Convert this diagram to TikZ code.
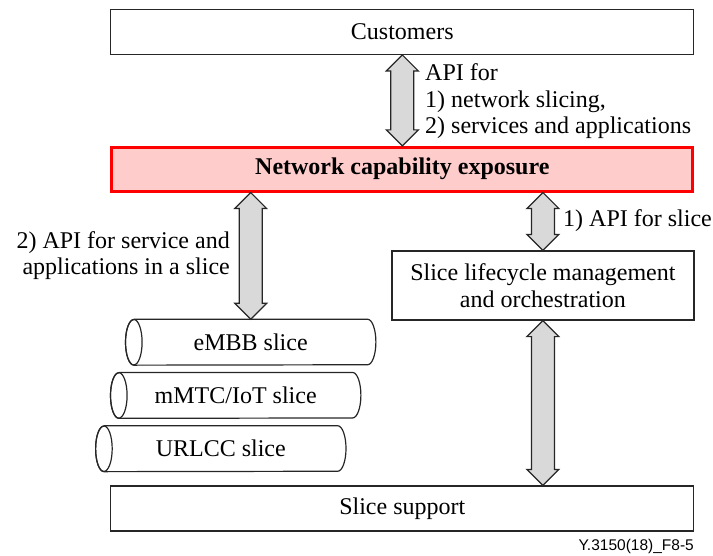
\documentclass[tikz,border=0pt]{standalone}
\usepackage{fontspec}
\setmainfont{Liberation Serif}
\newfontfamily\labelsans{Liberation Sans}
\usetikzlibrary{calc}
\definecolor{exposurefill}{RGB}{255,204,204}
\definecolor{exposureline}{RGB}{255,0,0}
\definecolor{arrowfill}{RGB}{217,217,217}

% horizontal cylinder outline round a named node, open face on the left
\newcommand\slicebody[1]{%
  \draw[outline] ([xshift=8.3pt]#1.north west) -- ([xshift=-8.3pt]#1.north east)
    arc[start angle=90,end angle=-90,x radius=8.3pt,y radius=22.75pt]
    -- ([xshift=8.3pt]#1.south west)
    arc[start angle=270,end angle=90,x radius=8.3pt,y radius=22.75pt];
  \draw[outline] ([xshift=8.3pt]#1.west) ellipse[x radius=8.3pt,y radius=22.75pt];}

\begin{document}
\begin{tikzpicture}[x=1pt,y=-1pt,
  every node/.style={font=\fontsize{24}{26.5}\selectfont},
  outline/.style={draw=black!85,line width=1.2pt},
  box/.style={outline,fill=white,inner sep=0pt},
  slice/.style={inner sep=0pt,minimum width=250pt,minimum height=45.5pt},
  lbl/.style={inner sep=0pt},
  % vertical double-headed block arrow from the start point down to the target
  fatarrow/.style={outline,fill=arrowfill,line join=miter,
    to path={let \p1=(\tikztostart),\p2=(\tikztotarget) in
      -- (\x1+16pt,\y1-16pt) -- (\x1+11.5pt,\y1-16pt)
      -- (\x1+11.5pt,\y2+16pt) -- (\x1+16pt,\y2+16pt)
      -- (\x1,\y2)
      -- (\x1-16pt,\y2+16pt) -- (\x1-11.5pt,\y2+16pt)
      -- (\x1-11.5pt,\y1-16pt) -- (\x1-16pt,\y1-16pt) -- cycle}}]

\useasboundingbox (0,0) rectangle (713,555);

% boxes
\node[box,minimum width=583pt,minimum height=45pt] (cust) at (402.3,31.8) {Customers};
\node[box,draw=exposureline,fill=exposurefill,line width=2.7pt,
      minimum width=581pt,minimum height=44pt,font=\fontsize{24}{26.5}\selectfont\bfseries]
      (nce) at (402.3,169.2) {Network capability exposure};
\node[box,align=center,minimum width=302pt,minimum height=69pt] (slm) at (542.9,285.5)
      {Slice lifecycle management\\and orchestration};
\node[box,minimum width=583pt,minimum height=45pt] (sup) at (402.3,508.5) {Slice support};

% slices
\node[slice] (embb) at (250.7,342.2) {eMBB slice};
\node[slice] (mmtc) at (235.7,395.4) {mMTC/IoT slice};
\node[slice] (urllc) at (220.8,448.7) {URLCC slice};
\slicebody{embb}
\slicebody{mmtc}
\slicebody{urllc}

% interfaces
\draw[fatarrow] (cust.south) to (nce.north);
\draw[fatarrow] (nce.south -| embb.north) to (embb.north);
\draw[fatarrow] (nce.south -| slm.north) to (slm.north);
\draw[fatarrow] (slm.south) to (sup.north -| slm.south);

% interface labels
\node[lbl,anchor=north west,align=left] (apiall) at (425,63.5)
      {API for\\1) network slicing,\\2) services and applications};
\node[lbl,anchor=north east,align=right] (apisvc) at (230,231.3)
      {2) API for service and\\applications in a slice};
\node[lbl,anchor=base west] (apislice) at (563,226) {1) API for slice};

\node[lbl,anchor=base east,font=\labelsans\fontsize{15.5}{18}\selectfont] (fig) at (694,550)
      {Y.3150(18)\_F8-5};
\end{tikzpicture}
\end{document}
